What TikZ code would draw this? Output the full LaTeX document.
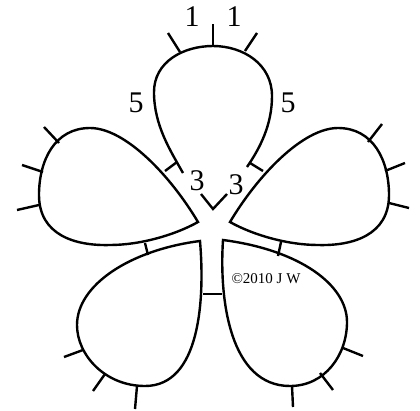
\documentclass[tikz,border=0pt]{standalone}
\usepackage{fontspec}
\setmainfont{Liberation Serif}

\begin{document}
\begin{tikzpicture}[
  x=1pt, y=-1pt,
  ring/.style={line width=2.4pt, line join=miter},
  picot/.style={line width=2.4pt},
  count/.style={font=\fontsize{30}{30}\selectfont, inner sep=0pt},
  credit/.style={font=\fontsize{15}{15}\selectfont, inner sep=0pt}
]
  \useasboundingbox (0,0) rectangle (420,410);

  % top ring (open at the base)
  \draw[ring] (183,173) .. controls (170,150) and (154,125) .. (154,92)
              .. controls (154,62) and (183,46) .. (213,46)
              .. controls (243,46) and (272,64) .. (272,96)
              .. controls (272,125) and (260,148) .. (247,167);
  \draw[ring] (201,194) -- (213,209) -- (227,194);

  % left ring
  \draw[ring] (198,222) .. controls (170,175) and (125,128) .. (90,128)
              .. controls (55,128) and (39,160) .. (39,195)
              .. controls (39,235) and (75,246) .. (110,245)
              .. controls (140,245) and (175,235) .. (198,222) -- cycle;

  % right ring
  \draw[ring] (230,222) .. controls (258,175) and (303,128) .. (338,128)
              .. controls (373,128) and (389,160) .. (389,195)
              .. controls (389,235) and (353,246) .. (318,245)
              .. controls (288,245) and (253,235) .. (230,222) -- cycle;

  % bottom left ring
  \draw[ring] (200,241) .. controls (205,300) and (200,386) .. (145,386)
              .. controls (105,386) and (77,355) .. (77,325)
              .. controls (77,285) and (130,250) .. (200,241) -- cycle;

  % bottom right ring
  \draw[ring] (223,240) .. controls (219,300) and (230,386) .. (290,386)
              .. controls (325,386) and (347,355) .. (347,322)
              .. controls (347,285) and (300,250) .. (223,240) -- cycle;

  % joins between rings
  \draw[picot] (165,171) -- (177,162);
  \draw[picot] (250,163) -- (263,171);
  \draw[picot] (145,243) -- (148,255);
  \draw[picot] (281,242) -- (278,256);
  \draw[picot] (203,294) -- (222,294);

  % picots
  \draw[picot] (213,46) -- (213,24);
  \draw[picot] (180,52) -- (168,33);
  \draw[picot] (245,51) -- (257,33);
  \draw[picot] (59,143) -- (44,127);
  \draw[picot] (43,172) -- (22,165);
  \draw[picot] (39,205) -- (17,210);
  \draw[picot] (368,142) -- (382,124);
  \draw[picot] (385,171) -- (405,163);
  \draw[picot] (389,203) -- (409,208);
  \draw[picot] (83,350) -- (64,357);
  \draw[picot] (105,374) -- (93,391);
  \draw[picot] (137,386) -- (135,409);
  \draw[picot] (343,348) -- (363,356);
  \draw[picot] (320,373) -- (333,390);
  \draw[picot] (292,386) -- (293,407);

  % stitch counts
  \node[count] (oneL) at (192,17) {1};
  \node[count] (oneR) at (234,17) {1};
  \node[count] (fiveL) at (136,103) {5};
  \node[count] (fiveR) at (288,103) {5};
  \node[count] (threeL) at (197,181) {3};
  \node[count] (threeR) at (236,185) {3};

  \node[credit] (copy) at (266,279) {©2010 J W};
\end{tikzpicture}
\end{document}
